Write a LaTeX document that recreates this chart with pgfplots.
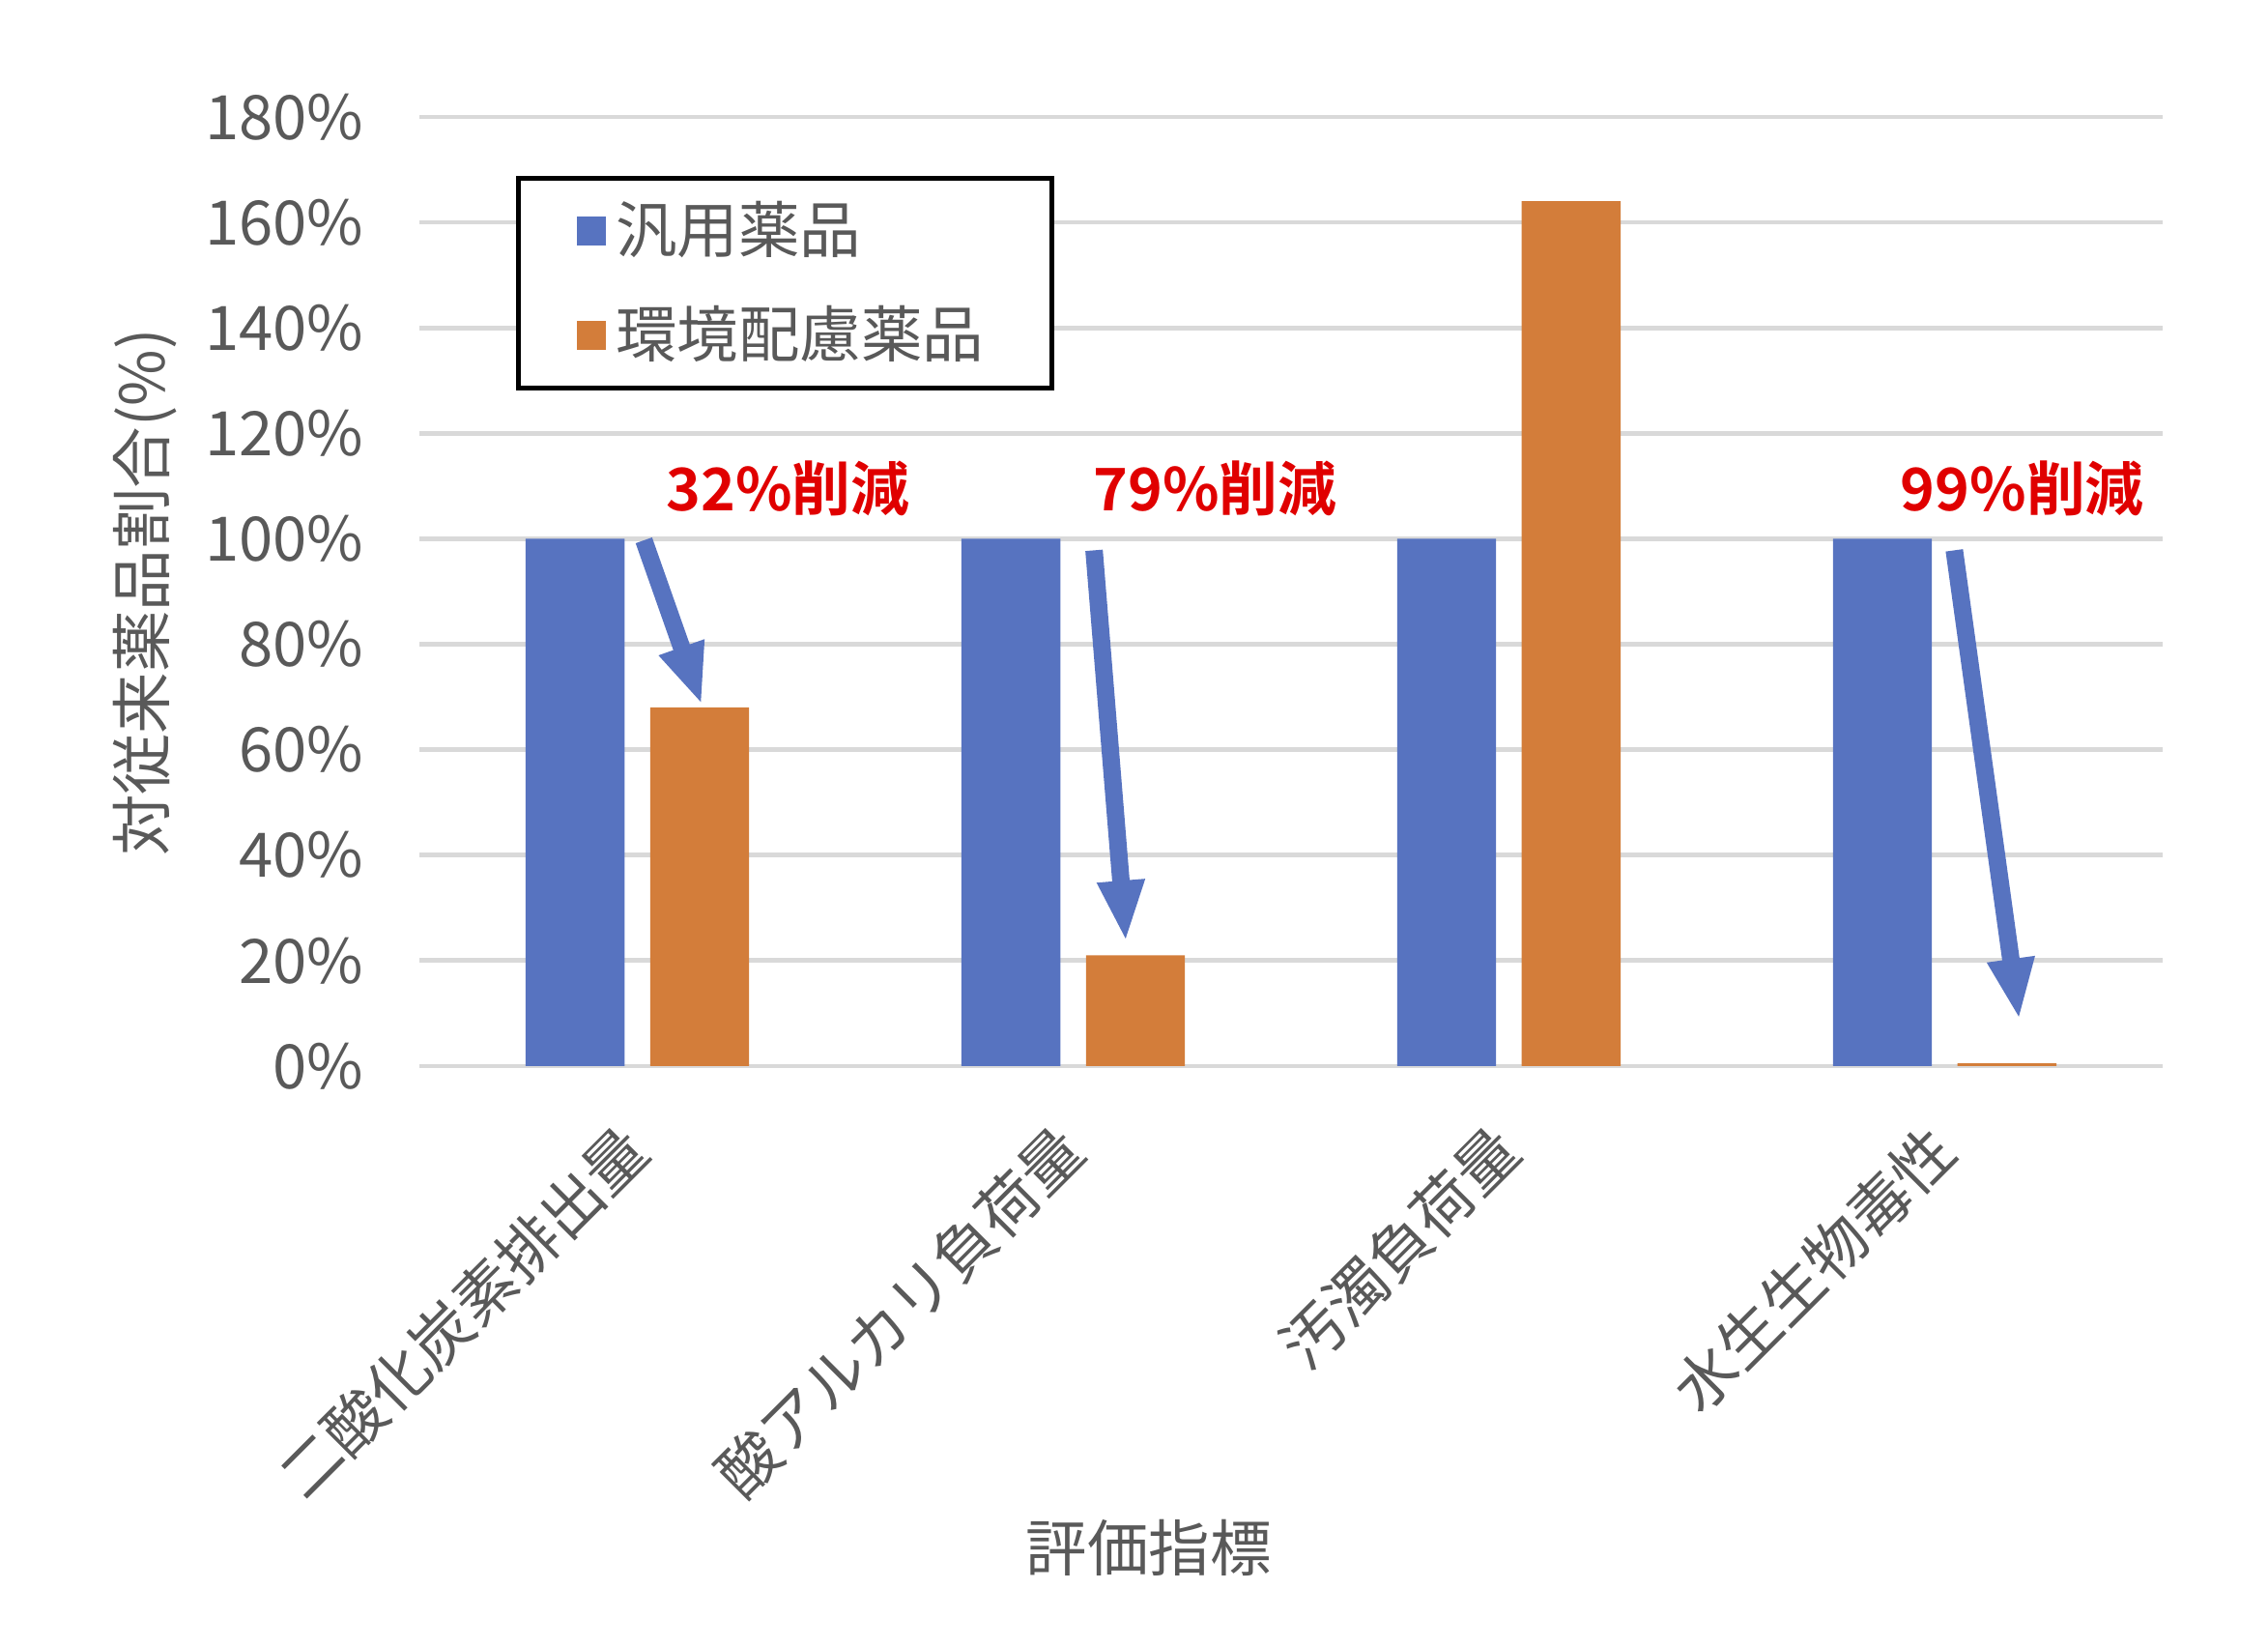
\documentclass[border=0pt]{standalone}
\usepackage{fontspec}
\setmainfont{Noto Sans CJK JP}[BoldFont={Noto Sans CJK JP Bold}]
\usepackage{pgfplots}
\pgfplotsset{compat=1.18}
\usetikzlibrary{arrows.meta}
\definecolor{barblue}{RGB}{87,115,192}
\definecolor{barorange}{RGB}{211,125,58}
\definecolor{txtgray}{RGB}{89,89,89}
\definecolor{gridgray}{RGB}{217,217,217}
\definecolor{annred}{RGB}{224,0,0}
\begin{document}
\begin{tikzpicture}
\path[use as bounding box] (0,0) rectangle (15.6,11.326);
\begin{axis}[
  at={(2.885cm,3.995cm)}, anchor=south west,
  scale only axis, width=11.99cm, height=6.527cm,
  xmin=-0.5, xmax=3.5, ymin=0, ymax=180,
  ybar, bar width=0.68cm,
  xtick={0,1,2,3},
  xticklabels={二酸化炭素排出量,酸アルカリ負荷量,汚濁負荷量,水生生物毒性},
  ytick={0,20,40,60,80,100,120,140,160,180},
  yticklabels={0\%,20\%,40\%,60\%,80\%,100\%,120\%,140\%,160\%,180\%},
  ymajorgrids, grid style={gridgray, line width=0.9pt},
  axis line style={draw=none}, major tick length=0pt,
  tick label style={font=\fontsize{12}{14}\selectfont, text=txtgray},
  yticklabel style={xshift=-0.26cm},
  xticklabel style={yshift=-0.50cm, rotate=45, anchor=east, inner sep=0pt},
  legend image code/.code={\fill[#1] (0cm,-0.1cm) rectangle (0.2cm,0.1cm);},
  legend cell align=left,
  legend style={at={(0.0554,0.938)}, anchor=north west, draw=black, line width=0.9pt,
    font=\fontsize{12}{14}\selectfont, text=txtgray,
    inner xsep=0.40cm, inner ysep=0.09cm, row sep=0.17cm},
]
\addplot[fill=barblue, draw=none, bar shift=-0.428cm] coordinates {(0,100) (1,100) (2,100) (3,100)};
\addplot[fill=barorange, draw=none, bar shift=0.428cm] coordinates {(0,68) (1,21) (2,164) (3,0.5)};
\legend{汎用薬品,環境配慮薬品}
\node[font=\bfseries\fontsize{11.5}{14}\selectfont, text=annred] at (axis cs:0.346,109.5) {32\%削減};
\node[font=\bfseries\fontsize{11.5}{14}\selectfont, text=annred] at (axis cs:1.326,109.5) {79\%削減};
\node[font=\bfseries\fontsize{11.5}{14}\selectfont, text=annred] at (axis cs:3.178,109.5) {99\%削減};
\draw[barblue, line width=0.12cm, -{Triangle[width=0.30cm,length=0.42cm]}] (axis cs:0.015,99.7) -- (axis cs:0.148,68.5);
\draw[barblue, line width=0.12cm, -{Triangle[width=0.30cm,length=0.42cm]}] (axis cs:1.048,97.8) -- (axis cs:1.121,23.6);
\draw[barblue, line width=0.12cm, -{Triangle[width=0.30cm,length=0.42cm]}] (axis cs:3.022,97.8) -- (axis cs:3.171,8.8);
\end{axis}
\node[rotate=90, text=txtgray, font=\fontsize{12}{14}\selectfont] at (1.00,7.25) {対従来薬品割合(\%)};
\node[text=txtgray, font=\fontsize{12}{14}\selectfont] at (7.90,0.68) {評価指標};
\end{tikzpicture}
\end{document}
